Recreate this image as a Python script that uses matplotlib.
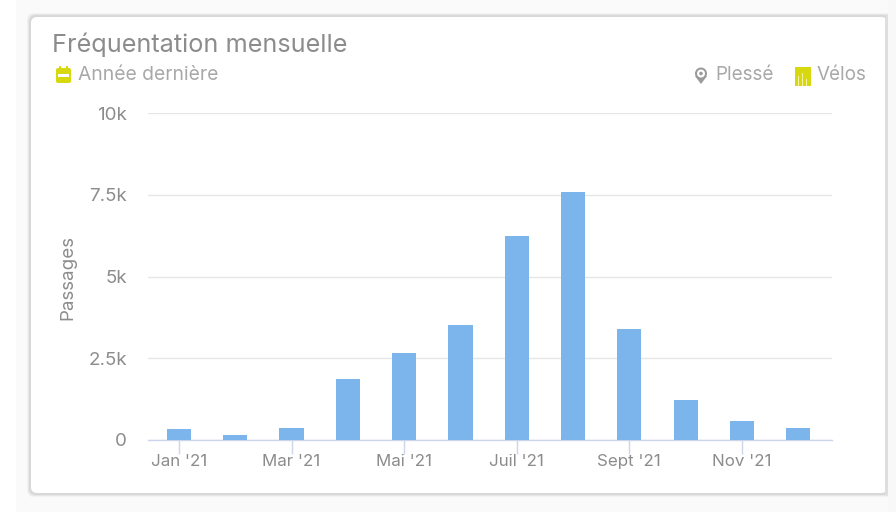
import matplotlib
matplotlib.use("Agg")
import matplotlib.pyplot as plt
from matplotlib.patches import FancyBboxPatch, Rectangle, Circle, Polygon

plt.rcParams['font.family'] = ['Inter', 'DejaVu Sans']

months = ["Jan '21", "Fév '21", "Mar '21", "Avr '21", "Mai '21", "Juin '21",
          "Juil '21", "Août '21", "Sept '21", "Oct '21", "Nov '21", "Déc '21"]
passages = [330, 150, 370, 1870, 2660, 3520, 6240, 7590, 3390, 1220, 580, 370]
y_ticks = [0, 2500, 5000, 7500, 10000]
y_labels = ["0", "2.5k", "5k", "7.5k", "10k"]

W, H = 896, 512
YELLOW = "#d8d80f"

fig = plt.figure(figsize=(W / 100, H / 100), dpi=100, facecolor="white")

# page and card, in pixel coordinates
bg = fig.add_axes([0, 0, 1, 1])
bg.set_xlim(0, W)
bg.set_ylim(H, 0)
bg.axis("off")
bg.add_patch(Rectangle((16, 0), W - 16, H, fc="#fafafa", ec="none"))
for grow, col in [(3, "#f2f2f2"), (2, "#e6e6e6"), (1, "#d8d8d8")]:
    bg.add_patch(FancyBboxPatch((30 - grow, 16 - grow), W - 30 + 20, 478 + 2 * grow,
                                boxstyle="round,pad=0,rounding_size=7", fc=col, ec="none"))
bg.add_patch(FancyBboxPatch((31, 17), W - 31 - 9, 476,
                            boxstyle="round,pad=0,rounding_size=6", fc="white", ec="none"))
bg.add_patch(Rectangle((888, 0), 8, H, fc="#f8f8f8", ec="none"))
bg.add_patch(Rectangle((885, 15), 3, 480, fc="#dedede", ec="none"))

bg.text(52, 44.5, "Fréquentation mensuelle", fontsize=18.2, color="#8c8c8c", va="center", ha="left")
bg.text(78, 75, "Année dernière", fontsize=13.9, color="#a8a8a8", va="center", ha="left")
bg.text(715, 75.5, "Plessé", fontsize=13.6, color="#a8a8a8", va="center", ha="left")
bg.text(817, 75, "Vélos", fontsize=13.6, color="#a8a8a8", va="center", ha="left")

# calendar icon
bg.add_patch(FancyBboxPatch((56, 68), 15, 15, boxstyle="round,pad=0,rounding_size=2", fc=YELLOW, ec="none"))
bg.add_patch(Rectangle((58, 74), 11, 3, fc="white", ec="none"))
bg.add_patch(Rectangle((59, 66), 2, 3, fc=YELLOW, ec="none"))
bg.add_patch(Rectangle((66, 66), 2, 3, fc=YELLOW, ec="none"))

# pin icon
bg.add_patch(Polygon([[695, 76], [707, 76], [701, 84]], fc="#9a9a9a", ec="none"))
bg.add_patch(Circle((701, 73.5), 6, fc="#9a9a9a", ec="none"))
bg.add_patch(Circle((701, 73.5), 4, fc="white", ec="none"))
bg.add_patch(Circle((701, 73.5), 1.8, fc="#9a9a9a", ec="none"))

# bars icon
bg.add_patch(Rectangle((795, 67), 16, 19, fc=YELLOW, ec="none"))
for xb, top in [(798, 76), (802, 73), (806, 79)]:
    bg.add_patch(Rectangle((xb, top), 1, 86 - top, fc="#f2f2a0", ec="none"))
for xb in [799.5, 803.5, 807.5]:
    bg.add_patch(Rectangle((xb, 67), 0.7, 19, fc="#e8e860", ec="none"))

# chart area 148..832 x 113..440 px
ax = fig.add_axes([148 / W, 1 - 440 / H, (832 - 148) / W, (440 - 113) / H])
ax.patch.set_alpha(0)
x = list(range(len(months)))
ax.bar(x, passages, width=0.43, color="#7cb5ec", zorder=3)
ax.set_xlim(-0.55, 11.6)
ax.set_ylim(0, 10000)

ax.set_yticks(y_ticks)
ax.set_yticklabels(y_labels, fontsize=13.5, color="#8c8c8c")
ax.tick_params(axis="y", length=0, pad=15)
ax.grid(axis="y", color="#e6e6e6", lw=1, zorder=0)
ax.set_axisbelow(True)

ax.set_xticks(x[::2])
ax.set_xticklabels(months[::2], fontsize=12.2, color="#8c8c8c")
ax.tick_params(axis="x", length=10, width=1, color="#ccd6eb", pad=0)

for side in ["top", "left", "right"]:
    ax.spines[side].set_visible(False)
ax.spines["bottom"].set_color("#ccd6eb")
ax.spines["bottom"].set_linewidth(1)

bg.text(68, 277, "Passages", fontsize=13.5, color="#8c8c8c", rotation=90, va="center", ha="center")

fig.savefig("out.png", dpi=100)
